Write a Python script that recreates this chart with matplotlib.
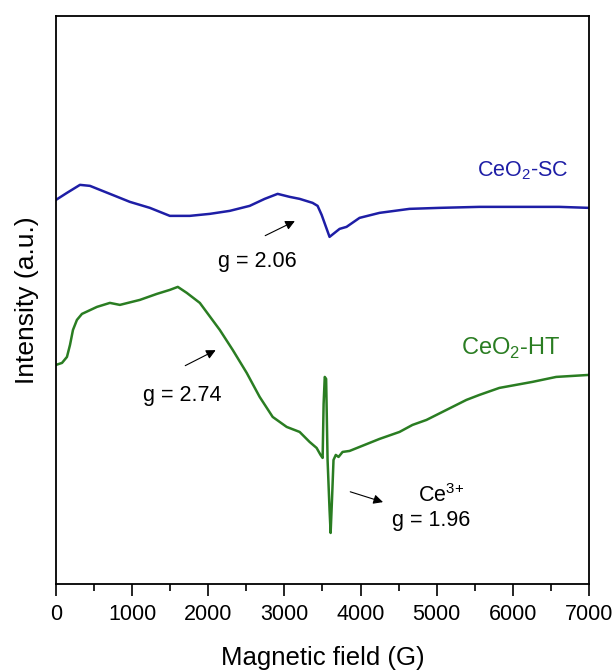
import matplotlib
matplotlib.use("Agg")
import matplotlib.pyplot as plt
from matplotlib.ticker import MultipleLocator

plt.rcParams['font.family'] = ['Liberation Sans', 'DejaVu Sans']
plt.rcParams['mathtext.fontset'] = 'custom'
plt.rcParams['mathtext.rm'] = 'Liberation Sans'

# EPR spectra (intensity in arbitrary units)
field_sc = [0, 144, 315, 446, 577, 774, 970, 1233, 1495, 1757, 2020, 2282,
            2544, 2741, 2911, 3069, 3200, 3370, 3436, 3489, 3541, 3593, 3659,
            3725, 3816, 3987, 4249, 4643, 5036, 5561, 6085, 6610, 7000]
int_sc = [384, 391, 399, 398, 394, 388, 382, 376, 368, 368, 370, 373,
          378, 385, 390, 387, 385, 381, 378, 369, 358, 347, 351,
          355, 357, 366, 371, 375, 376, 377, 377, 377, 376]

field_ht = [0, 79, 144, 184, 223, 275, 341, 538, 708, 839, 1102, 1325, 1495,
            1600, 1718, 1889, 2151, 2321, 2505, 2675, 2846, 3030, 3200, 3331,
            3423, 3475, 3502, 3515, 3530, 3548, 3567, 3593, 3607, 3625, 3645,
            3675, 3711, 3764, 3856, 3987, 4249, 4512, 4682, 4866, 5128, 5390,
            5561, 5823, 6256, 6570, 7000]
int_ht = [219, 221, 227, 239, 254, 264, 270, 277, 281, 279, 284, 290, 294,
          297, 291, 281, 254, 234, 211, 187, 167, 157, 152, 142,
          136, 129, 126, 180, 207, 205, 124, 74, 51, 84, 124,
          129, 127, 132, 133, 137, 145, 152, 159, 164, 174, 184,
          189, 196, 202, 207, 209]

blue = '#1e1ea6'
green = '#2a7d22'

fig = plt.figure(figsize=(6.14, 6.70), dpi=100)
ax = fig.add_axes([0.0912, 0.1284, 0.868, 0.848])

ax.plot(field_sc, int_sc, color=blue, lw=1.8)
ax.plot(field_ht, int_ht, color=green, lw=1.8)

ax.set_xlim(0, 7000)
ax.set_ylim(0, 568)
ax.xaxis.set_major_locator(MultipleLocator(1000))
ax.xaxis.set_minor_locator(MultipleLocator(500))
ax.tick_params(axis='x', which='major', direction='out', length=8.5, width=1.2,
               labelsize=15.5, pad=6)
ax.tick_params(axis='x', which='minor', direction='out', length=5, width=1.2)
ax.set_yticks([])
for s in ax.spines.values():
    s.set_linewidth(1.3)

ax.set_xlabel('Magnetic field (G)', fontsize=18.5, labelpad=15)
ax.set_ylabel('Intensity (a.u.)', fontsize=19, labelpad=12)

ax.text(6125, 407, r'CeO$_\mathregular{2}$-SC', color=blue, fontsize=15.5,
        ha='center', va='baseline')
ax.text(5967, 229, r'CeO$_\mathregular{2}$-HT', color=green, fontsize=17,
        ha='center', va='baseline')

arrow = dict(arrowstyle='-|>', color='black', lw=0.8, mutation_scale=14)
ax.annotate('', xy=(3170, 364), xytext=(2715, 347), arrowprops=arrow)
ax.text(2640, 322, 'g = 2.06', fontsize=15.5, ha='center', va='center')
ax.annotate('', xy=(2130, 235), xytext=(1665, 217), arrowprops=arrow)
ax.text(1652, 188, 'g = 2.74', fontsize=15.5, ha='center', va='center')
ax.annotate('', xy=(4330, 81), xytext=(3830, 93), arrowprops=arrow)
ax.text(5062, 88, r'Ce$^{\mathregular{3{+}}}$', fontsize=15.5, ha='center', va='center')
ax.text(4931, 63, 'g = 1.96', fontsize=15.5, ha='center', va='center')

fig.savefig('out.png', dpi=100)
